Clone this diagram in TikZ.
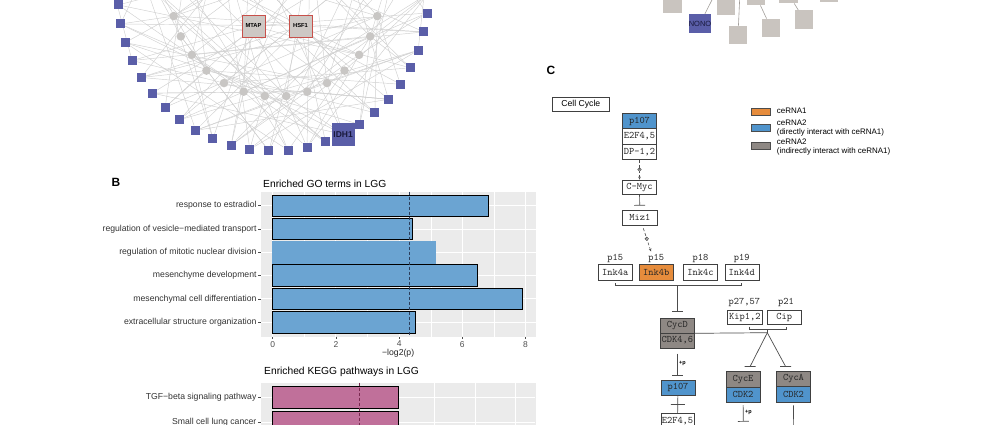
\documentclass[tikz,border=0pt]{standalone}
\usepackage{fontspec}
\setmainfont{Liberation Sans}
\usetikzlibrary{arrows.meta,backgrounds,positioning}

\newcommand{\fsz}[1]{\fontsize{#1}{#1}\selectfont}

\definecolor{netblue}{RGB}{90,94,168}
\definecolor{netgray}{RGB}{200,198,196}
\definecolor{hubfill}{RGB}{205,200,196}
\definecolor{hubred}{RGB}{200,80,74}
\definecolor{edgegray}{RGB}{208,208,208}
\definecolor{fraggray}{RGB}{201,196,191}
\definecolor{panelbg}{RGB}{235,235,235}
\definecolor{gobar}{RGB}{107,164,210}
\definecolor{keggbar}{RGB}{192,112,154}
\definecolor{gocut}{RGB}{44,62,92}
\definecolor{keggcut}{RGB}{122,42,80}
\definecolor{cerna1}{RGB}{230,140,60}
\definecolor{cerna2}{RGB}{80,148,204}
\definecolor{cerna2i}{RGB}{142,136,132}
\definecolor{axisgray}{RGB}{77,77,77}
\definecolor{navytext}{RGB}{25,25,60}

\begin{document}
\begin{tikzpicture}[x=1bp, y=-1bp,
    sq/.style={fill=netblue, minimum size=9bp, inner sep=0pt},
    gc/.style={circle, fill=netgray, minimum size=8.6bp, inner sep=0pt},
    hub/.style={fill=hubfill, draw=hubred, line width=.8bp, minimum width=23bp,
        minimum height=22bp, inner sep=0pt, font=\bfseries\fsz{5.8}},
    idh/.style={fill=netblue, minimum size=23bp, inner sep=0pt, text=navytext,
        font=\bfseries\fsz{8.5}},
    edge/.style={draw=edgegray, line width=.45bp},
    frag/.style={fill=fraggray, minimum size=18.5bp, inner sep=0pt},
    nono/.style={frag, fill=netblue, text=navytext, font=\fsz{7.5}},
    fedge/.style={draw=fraggray!80!black, line width=.6bp},
    panellab/.style={font=\bfseries\fsz{12}},
    plottitle/.style={anchor=west, font=\fsz{10.3}, inner sep=0pt},
    ylab/.style={left, font=\fsz{8.7}, text=black!80, inner sep=1.2bp},
    xlab/.style={below, font=\fsz{8.5}, text=axisgray, inner sep=1.5bp},
    cutoff/.style={dash pattern=on 3bp off 2bp, line width=.7bp},
    kbox/.style={draw=black!75, line width=.6bp, fill=white, minimum width=34.3bp,
        minimum height=15.3bp, inner sep=0pt, font=\ttfamily\fsz{10}, text=black!85},
    kblue/.style={kbox, fill=cerna2},
    korange/.style={kbox, fill=cerna1},
    kgray/.style={kbox, fill=cerna2i},
    klab/.style={font=\ttfamily\fsz{10}, text=black!85, inner sep=0pt},
    kline/.style={draw=black!70, line width=.7bp},
    inh/.style={kline, -{Bar[width=11bp, line width=.7bp]}},
    tee/.style={draw=black!70, line width=.7bp, minimum width=11bp, minimum height=0pt,
        inner sep=0pt, outer sep=0pt},
    crossbar/.style={tee, minimum width=14bp},
    expr/.style={draw=black!70, line width=.6bp, densely dashed,
        -{Stealth[length=3bp, width=2.6bp]}},
    emark/.style={circle, draw=black!70, fill=white, inner sep=0pt, minimum size=3.4bp,
        font=\fsz{2.6}, solid},
    plabel/.style={font=\bfseries\fsz{5.5}, inner sep=1.5bp},
    lgbox/.style={draw=black!70, line width=.5bp, minimum width=19bp, minimum height=7bp,
        inner sep=0pt},
    lgtext/.style={anchor=west, align=left, inner sep=0pt, font=\fontsize{8}{8.8}\selectfont}
    ]

    \useasboundingbox (0,0) rectangle (998,424);
    \clip (0,0) rectangle (998,424);

    % A: network, outer ring and inner ring
    \foreach \i in {0,...,25}
        \path (273,-4) ++(-0.8+7.1*\i:155) node [sq] (sq\i) {};
    \foreach \j in {0,...,13}
        \path (275.5,-8) ++(13.3+11.8*\j:104.6) node [gc] (gc\j) {};

    \node [hub] (mtap) at (253.5,26) {MTAP};
    \node [hub] (hsf1) at (300.5,26) {HSF1};
    \node [idh] (idh1) at (sq9) {IDH1};

    \begin{scope}[on background layer]
        \clip (0,0) rectangle (998,424);
        \foreach \k in {0,...,11}
            \coordinate (up\k) at (100+30*\k,-60);
        \foreach \i in {0,...,25} {
            \pgfmathtruncatemacro\ja{mod(5*\i+3,14)}
            \pgfmathtruncatemacro\jb{mod(9*\i+7,14)}
            \pgfmathtruncatemacro\ku{mod(7*\i+2,12)}
            \draw [edge] (sq\i) -- (gc\ja);
            \draw [edge] (sq\i) -- (gc\jb);
            \draw [edge] (sq\i) -- (up\ku);
        }
        \foreach \i in {0,3,...,24} {
            \pgfmathtruncatemacro\s{mod(\i+11,26)}
            \draw [edge] (sq\i) -- (sq\s);
        }
        \foreach \i in {1,4,7,11,15,19,22}
            \draw [edge] (mtap) -- (sq\i);
        \foreach \i in {2,6,10,13,17,21,24}
            \draw [edge] (hsf1) -- (sq\i);
        \foreach \j in {0,...,13} {
            \pgfmathtruncatemacro\ka{mod(5*\j+1,12)}
            \pgfmathtruncatemacro\kb{mod(3*\j+7,12)}
            \draw [edge] (gc\j) -- (up\ka);
            \draw [edge] (gc\j) -- (up\kb);
        }
    \end{scope}

    % top right fragment
    \node [frag] (f1) at (672.5,3.8) {};
    \node [frag] (f2) at (726,6) {};
    \node [frag] (f3) at (756,-4) {};
    \node [frag] (f4) at (788.5,-6) {};
    \node [frag] (f5) at (829,-7) {};
    \node [frag] (f6) at (804,19.5) {};
    \node [frag] (f7) at (771,28) {};
    \node [frag] (f8) at (738,35) {};
    \node [nono] (nono) at (700,23.5) {NONO};
    \coordinate (fup1) at (716,-8);
    \coordinate (fup2) at (740,-8);
    \draw [fedge] (nono) -- (fup1);
    \draw [fedge] (f8) -- (fup2);
    \draw [fedge] (f7) -- (f3);
    \draw [fedge] (f6) -- (f4);

    % B: GO terms
    \node [panellab] (labB) at (116,182) {B};
    \node [plottitle] (gotitle) at (263,184) {Enriched GO terms in LGG};
    \fill [panelbg] (260.7,191.7) rectangle (535.7,336.7);
    \begin{scope}[shift={(272.7,0)}, x=31.6bp]
        \foreach \v in {1,3,5,7}
            \draw [white, line width=.4bp] (\v,191.7) -- (\v,336.7);
        \foreach \v in {0,2,...,8} {
            \draw [white, line width=.9bp] (\v,191.7) -- (\v,336.7);
            \draw [axisgray, line width=.5bp] (\v,336.7) -- (\v,339.4) node [xlab] {\v};
        }
        \foreach \v/\lab/\bd [count=\k from 0] in {
            6.82/response to estradiol/black,
            4.42/regulation of vesicle−mediated transport/black,
            5.15/regulation of mitotic nuclear division/gobar,
            6.49/mesenchyme development/black,
            7.91/mesenchymal cell differentiation/black,
            4.5/extracellular structure organization/black} {
            \pgfmathsetmacro\yc{205.7+23.3*\k}
            \draw [white, line width=.9bp] (-0.38,\yc) -- (8.32,\yc);
            \filldraw [fill=gobar, draw=\bd, line width=.7bp] (0,\yc-10.8) rectangle (\v,\yc+10.8);
            \draw [axisgray, line width=.5bp] (-0.38,\yc) -- (-0.465,\yc) node [ylab] {\lab};
        }
        \draw [gocut, cutoff] (4.32,191.7) -- (4.32,336.7);
        \node [font=\fsz{8.7}, text=black!85] (goaxis) at (3.97,353) {−log2(p)};
    \end{scope}

    % B: KEGG pathways
    \node [plottitle] (keggtitle) at (264,372.3) {Enriched KEGG pathways in LGG};
    \fill [panelbg] (260.7,382.7) rectangle (535.7,430);
    \begin{scope}[shift={(272.7,0)}, x=40.5bp]
        \foreach \v in {4,5,6}
            \draw [white, line width=.8bp] (\v,382.7) -- (\v,430);
        \foreach \v/\lab [count=\k from 0] in {
            3.1/TGF−beta signaling pathway,
            3.1/Small cell lung cancer} {
            \pgfmathsetmacro\yc{397.7+24.3*\k}
            \draw [white, line width=.9bp] (-0.3,\yc) -- (6.48,\yc);
            \filldraw [fill=keggbar, draw=black, line width=.7bp] (0,\yc-11) rectangle (\v,\yc+11);
            \draw [axisgray, line width=.5bp] (-0.3,\yc) -- (-0.367,\yc) node [ylab] {\lab};
        }
        \draw [keggcut, cutoff] (2.14,382.7) -- (2.14,430);
    \end{scope}

    % C: cell cycle map
    \node [panellab] (labC) at (551,70) {C};
    \node [draw=black!75, line width=.6bp, minimum width=57bp, minimum height=13.3bp,
        inner sep=0pt, font=\fsz{8.7}] (cc) at (580.8,104.3) {Cell Cycle};

    \node [kblue] (p107a) at (639.5,121) {p107};
    \node [kbox] (e2fa) at (639.5,136.3) {E2F4,5};
    \node [kbox] (dpa) at (639.5,151.6) {DP-1,2};
    \node [kbox, minimum height=14.5bp] (cmyc) at (639.5,187.2) {C-Myc};
    \node [kbox, minimum height=15.7bp] (miz1) at (639.8,217.8) {Miz1};
    \draw [expr] (dpa) -- node [emark] {e} (cmyc);
    \draw [inh, shorten >=4bp] (cmyc) -- (miz1);
    \coordinate (mizend) at (651,251.5);
    \draw [expr, shorten <=2.5bp] (miz1) -- node [emark] {e} (mizend);

    \foreach \x/\nm/\lab/\pl/\sty in {
        615.3/ink4a/Ink4a/p15/kbox,
        656.3/ink4b/Ink4b/p15/korange,
        700.5/ink4c/Ink4c/p18/kbox,
        741.8/ink4d/Ink4d/p19/kbox} {
        \node [\sty, minimum width=34bp, minimum height=15.7bp] (\nm) at (\x,272.2) {\lab};
        \node [klab] (\nm-p) at (\x,258.3) {\pl};
    }
    \draw [kline] (615.3,283) -- (615.3,285.7) -- (741.8,285.7) -- (741.8,283);
    \coordinate (inkbr) at (677.3,285.7);

    \node [kgray, minimum width=34bp, minimum height=15bp] (cycd) at (677.3,325.5) {CycD};
    \node [kgray, minimum width=34bp, minimum height=15bp] (cdk46) at (677.3,340.5) {CDK4,6};
    \draw [inh, shorten >=6bp] (inkbr) -- (cycd);

    \node [kbox, minimum height=14.3bp] (kip) at (744.8,317.2) {Kip1,2};
    \node [kbox, minimum width=34bp, minimum height=14.3bp] (cip) at (784.3,317.2) {Cip};
    \node [klab] (kip-p) at (744.3,302.3) {p27,57};
    \node [klab] (cip-p) at (786,302.3) {p21};
    \draw [kline] (749,326.5) -- (749,329) -- (786.7,329) -- (786.7,326.5);
    \coordinate (kcbr) at (767.3,332.7);
    \draw [kline] (767.3,329) -- (kcbr);
    \draw [kline] (cycd.south east) -- (kcbr);

    \node [kgray, minimum width=34bp, minimum height=15.5bp] (cyce) at (743,379.2) {CycE};
    \node [kblue, minimum width=34bp, minimum height=15.5bp] (cdk2e) at (743,394.7) {CDK2};
    \node [kgray, minimum width=34bp, minimum height=15.5bp] (cyca) at (793.5,378.7) {CycA};
    \node [kblue, minimum width=34bp, minimum height=15.5bp] (cdk2a) at (793.5,394.2) {CDK2};
    \coordinate (cyein) at (750,366.7);
    \coordinate (cyain) at (785.7,366.7);
    \draw [kline] (kcbr) -- (cyein) node [tee] {};
    \draw [kline] (kcbr) -- (cyain) node [tee] {};

    \node [kblue] (p107b) at (678,387.5) {p107};
    \node [kbox, minimum width=33bp] (e2fb) at (677.5,421) {E2F4,5};
    \draw [inh, shorten <=5.3bp, shorten >=4bp] (cdk46.south) -- (cdk46.south |- p107b.north)
        node [midway, right, plabel] {+p};
    \draw [kline] (p107b) -- node [crossbar] {} (e2fb);

    \coordinate (cyeout) at (743.3,421.7);
    \draw [inh, shorten <=2.3bp] (cdk2e) -- (cyeout) node [midway, right, plabel] {+p};
    \coordinate (cyaout) at (793.3,440);
    \draw [kline, shorten <=3bp] (cdk2a) -- (cyaout);

    % legend
    \node [lgbox, fill=cerna1] (lg1) at (760.5,111.8) {};
    \node [lgtext] (lg1t) at (776.7,111) {ceRNA1};
    \node [lgbox, fill=cerna2] (lg2) at (760.5,127.7) {};
    \node [lgtext] (lg2t) at (776.7,127.8) {ceRNA2\\(directly interact with ceRNA1)};
    \node [lgbox, fill=cerna2i] (lg3) at (760.5,145.8) {};
    \node [lgtext] (lg3t) at (776.7,146.7) {ceRNA2\\(indirectly interact with ceRNA1)};

\end{tikzpicture}
\end{document}
